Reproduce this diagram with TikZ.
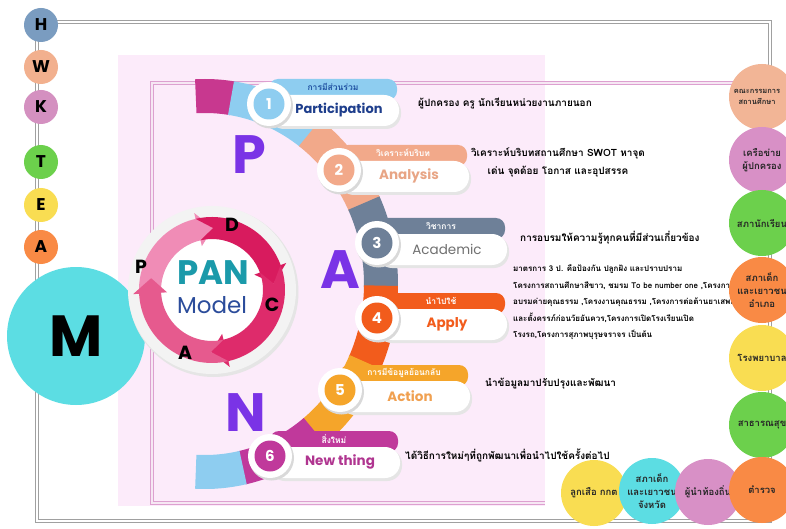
\documentclass[tikz,border=0pt]{standalone}
\usepackage{fontspec}
\setmainfont{Poppins}
\newfontfamily\thai[Script=Thai]{Loma}
\definecolor{frameGray}{HTML}{A0A0A0}
\definecolor{pinkLine}{HTML}{DDA0D0}
\definecolor{pinkbg}{HTML}{FCEBFA}
\definecolor{cH}{HTML}{7A9CC0}
\definecolor{cW}{HTML}{F2B08E}
\definecolor{cK}{HTML}{D490C0}
\definecolor{cT}{HTML}{6CD04C}
\definecolor{cE}{HTML}{F9DD52}
\definecolor{cA}{HTML}{F98A45}
\definecolor{cM}{HTML}{5CDDE3}
\definecolor{c1}{HTML}{8ECDF0}
\definecolor{c2}{HTML}{F2A98A}
\definecolor{c3}{HTML}{6E8098}
\definecolor{c4}{HTML}{F25C1C}
\definecolor{c5}{HTML}{F5A52A}
\definecolor{c6}{HTML}{C0399B}
\definecolor{capM}{HTML}{C8388F}
\definecolor{purpleL}{HTML}{7A33E6}
\definecolor{tealP}{HTML}{1B9AAA}
\definecolor{navyM}{HTML}{2B4C9B}
\definecolor{ringA}{HTML}{F08CB6}
\definecolor{ringB}{HTML}{D81B5E}
\definecolor{ringC}{HTML}{DE2B6B}
\definecolor{ringD}{HTML}{E65A8E}
\definecolor{halo}{HTML}{F3F3F3}
\definecolor{rPeach}{HTML}{F2B596}
\definecolor{rMauve}{HTML}{D890C6}
\definecolor{rGreen}{HTML}{6CD04C}
\definecolor{rOrange}{HTML}{F98A45}
\definecolor{rYellow}{HTML}{F9DD52}
\definecolor{rCyan}{HTML}{5CDDE3}
\definecolor{partBlue}{HTML}{1E3E8C}
\definecolor{anaC}{HTML}{E8A585}
\definecolor{acaC}{HTML}{707070}
\definecolor{actC}{HTML}{F0A050}
\definecolor{newC}{HTML}{B03590}
\definecolor{tab1C}{HTML}{1E4FA0}
\tikzset{
 grayframe/.style={draw=frameGray, line width=1.5pt, double=white, double distance=1.8pt},
 pinkframe/.style={draw=pinkLine, line width=1.2pt, double=pinkLine!25, double distance=1.6pt},
 letterc/.style={circle, minimum size=34pt, inner sep=0pt, font=\bfseries\fontsize{17}{17}\selectfont},
 rc/.style={circle, minimum size=66pt, inner sep=0pt, align=center, font=\thai\bfseries\fontsize{9.5}{13}\selectfont, text=black!85},
 desc/.style={anchor=west, font=\thai\bfseries\fontsize{10}{18}\selectfont, inner sep=0pt},
 bigl/.style={text=purpleL, font=\bfseries\fontsize{54}{54}\selectfont, inner sep=0pt},
 pdca/.style={font=\bfseries\fontsize{19}{19}\selectfont, inner sep=0pt},
}
% #1 number, #2 bx, #3 by, #4 colour, #5 thai, #6 english, #7 english font, #8 thai colour, #9 english colour
\newcommand\panrib[9]{%
  \fill[black!10, rounded corners=15pt] ({#2},{#3-7}) rectangle ({#2+132},{#3+25});
  \fill[#4, rounded corners=9pt] ({#2},{#3-25}) rectangle ({#2+128},{#3-4});
  \fill[white, rounded corners=15pt] ({#2},{#3-9}) rectangle ({#2+130},{#3+22});
  \node[font=\thai\bfseries\fontsize{8.5}{8.5}\selectfont, text=#8, inner sep=0pt] (rib#1t) at ({#2+64},{#3-17}) {#5};
  \node[font=#7, text=#9, inner sep=0pt] (rib#1e) at ({#2+70},{#3+6}) {#6};
  \fill[black!15] ({#2+1.5},{#3+2}) circle (22.5);
  \node[circle, fill=white, minimum size=44pt, inner sep=0pt] (rib#1b) at ({#2},{#3}) {};
  \node[circle, fill=#4, minimum size=31pt, inner sep=0pt, text=white, font=\bfseries\fontsize{15}{15}\selectfont] (rib#1n) at ({#2},{#3}) {#1};
}
\begin{document}
\begin{tikzpicture}[x=1pt,y=-1pt]
\useasboundingbox (0,0) rectangle (786,529);
\fill[white] (0,0) rectangle (786,529);

% outer gray frame
\draw[grayframe] (42,22) -- (770,22) -- (770,521) -- (37,521) -- (37,25);

% pink background and frame
\fill[pinkbg] (118,55) rectangle (545,506);
\draw[pinkframe] (735,83) -- (152,83) -- (152,503) -- (545,503);

% left letter column
\node[letterc, fill=cH] (H) at (41,25) {H};
\node[letterc, fill=cW] (W) at (41,67) {W};
\node[letterc, fill=cK] (K) at (41,107) {K};
\node[letterc, fill=cT] (T) at (41,162) {T};
\node[letterc, fill=cE] (E) at (41,205) {E};
\node[letterc, fill=cA] (A) at (41,247) {A};
\node[circle, fill=cM, minimum size=138pt, inner sep=0pt, font=\bfseries\fontsize{58}{58}\selectfont] (M) at (76,336) {M};

% PAN model circle
\fill[black!10] (213.5,292) circle (85);
\node[circle, fill=halo, minimum size=168pt, inner sep=0pt] (halo) at (212,290) {};
\fill[white] (212,290) circle (51);
\begin{scope}[shift={(212,290)}, yscale=-1]
 \foreach \s/\e/\c in {183/103/ringA, 103/20/ringB, 20/-77/ringC, -77/-177/ringD} {
  \fill[\c] (\s:73) arc[start angle=\s, end angle=\e, radius=73] -- (\e:79) -- ({\e-14}:62) -- (\e:45) -- (\e:51) arc[start angle=\e, end angle=\s, radius=51] -- ({\s-14}:62) -- cycle;
 }
\end{scope}
\node[text=tealP, font=\bfseries\fontsize{34}{34}\selectfont, inner sep=0pt] (pan) at (213,273) {PAN};
\node[text=navyM, font=\fontsize{23}{23}\selectfont, inner sep=0pt] (model) at (212,305) {Model};
\node[pdca] (lD) at (232,225) {D};
\node[pdca] (lC) at (272,305) {C};
\node[pdca] (lA) at (185,353) {A};
\node[pdca] (lP) at (141,267) {P};

% C-shaped band
\begin{scope}[shift={(205,284)}, yscale=-1]
 \foreach \s/\e/\c in {93/81/capM, 81.5/53/c1, 53.5/25/c2, 25.5/-1/c3, -0.5/-25/c4, -24.5/-52/c5, -51.5/-78/c6, -77.5/-93/c1} {
  \draw[line width=34pt, \c] ({176*cos(\s)},{188*sin(\s)}) arc[start angle=\s, end angle=\e, x radius=176, y radius=188];
 }
\end{scope}

% ribbons
\panrib{1}{269}{104}{c1}{การมีส่วนร่วม}{Participation}{\bfseries\fontsize{13}{13}\selectfont}{tab1C}{partBlue}
\panrib{2}{339}{170}{c2}{วิเคราะห์บริบท}{Analysis}{\bfseries\fontsize{13.5}{13.5}\selectfont}{white}{anaC}
\panrib{3}{377}{243}{c3}{วิชาการ}{Academic}{\fontsize{13.5}{13.5}\selectfont}{white}{acaC}
\panrib{4}{377}{318}{c4}{นำไปใช้}{Apply}{\bfseries\fontsize{13.5}{13.5}\selectfont}{white}{c4}
\panrib{5}{340}{390}{c5}{การมีข้อมูลย้อนกลับ}{Action}{\bfseries\fontsize{13.5}{13.5}\selectfont}{white}{actC}
\panrib{6}{270}{456}{c6}{สิ่งใหม่}{New thing}{\bfseries\fontsize{13.5}{13.5}\selectfont}{white}{newC}

% big letters
\node[bigl] (bigP) at (249,155) {P};
\node[bigl] (bigA) at (340,270) {A};
\node[bigl] (bigN) at (246,413) {N};

% descriptions
\node[desc] (d1) at (418,103) {ผู้ปกครอง ครู นักเรียนหน่วยงานภายนอก};
\node[desc, anchor=center, align=center] (d2) at (558,162) {วิเคราะห์บริบทสถานศึกษา SWOT หาจุด\\เด่น จุดด้อย โอกาส และอุปสรรค};
\node[desc] (d3) at (520,238) {การอบรมให้ความรู้ทุกคนที่มีส่วนเกี่ยวข้อง};
\node[desc, anchor=north west, align=left, font=\thai\bfseries\fontsize{8}{16.5}\selectfont] (d4) at (513,265) {มาตรการ 3 ป.  คือป้องกัน ปลูกฝัง และปราบปราม\\โครงการสถานศึกษาสีขาว, ชมรม To be number one ,โครงการ\\อบรมค่ายคุณธรรม ,โครงงานคุณธรรม ,โครงการต่อต้านยาเสพติด\\และตั้งครรภ์ก่อนวัยอันควร,โครงการเปิดโรงเรียนเปิด\\โรงรถ,โครงการสุภาพบุรุษจราจร เป็นต้น};
\node[desc] (d5) at (485,384) {นำข้อมูลมาปรับปรุงและพัฒนา};
\node[desc] (d6) at (405,455) {ได้วิธีการใหม่ๆที่ถูกพัฒนาเพื่อนำไปใช้ครั้งต่อไป};

% partner circles
\node[rc, fill=rPeach] (p1) at (762,97) {};
\node[font=\thai\bfseries\fontsize{7.5}{11}\selectfont, align=center, text=black!85, inner sep=0pt] (p1t) at (757,97) {คณะกรรมการ\\สถานศึกษา};
\node[rc, fill=rMauve] (p2) at (762,160) {เครือข่าย\\ผู้ปกครอง};
\node[rc, fill=rGreen] (p3) at (762,223) {สภานักเรียน};
\node[rc, fill=rOrange] (p4) at (762,290) {สภาเด็ก\\และเยาวชน\\อำเภอ};
\node[rc, fill=rYellow] (p5) at (762,358) {โรงพยาบาล};
\node[rc, fill=rGreen] (p6) at (762,425) {สาธารณสุข};
\node[rc, fill=rYellow] (q1) at (594,493) {ลูกเสือ กกต};
\node[rc, fill=rCyan] (q2) at (652,491) {สภาเด็ก\\และเยาวชน\\จังหวัด};
\node[rc, fill=rMauve] (q3) at (708,492) {ผู้นำท้องถิ่น};
\node[rc, fill=rOrange] (p7) at (762,490) {ตำรวจ};
\end{tikzpicture}
\end{document}
